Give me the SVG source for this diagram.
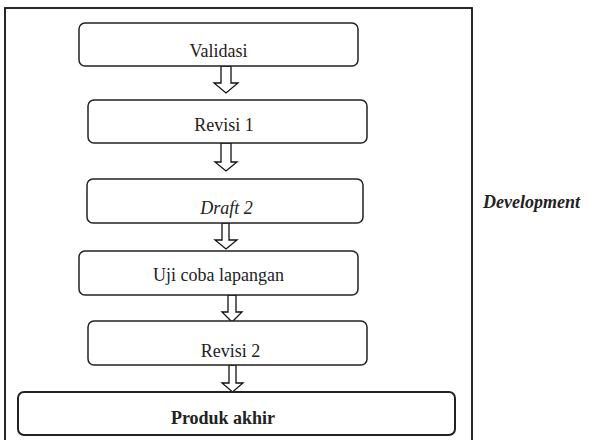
<svg xmlns="http://www.w3.org/2000/svg" width="589" height="440" viewBox="0 0 589 440">
<style>
.box{fill:#fff;stroke:#222;stroke-width:1.5}
.box2{fill:#fff;stroke:#222;stroke-width:2}
.t{font-family:"Liberation Serif","Times New Roman",serif;font-size:18px;fill:#222;text-anchor:middle}
.arr{fill:#fff;stroke:#111;stroke-width:1.3;stroke-linejoin:miter}
</style>
<rect width="589" height="440" fill="#fff"/>
<rect x="5" y="8" width="467" height="436" fill="none" stroke="#111" stroke-width="1.8"/>
<g id="connectors">
<polygon class="arr" points="221,66 231,66 231,83 238,83 226,93 214,83 221,83"/>
<polygon class="arr" points="221,143 231,143 231,162 237,162 226,171 215,162 221,162"/>
<polygon class="arr" points="222,223 229,223 229,240 237,240 226,249 215,240 222,240"/>
<polygon class="arr" points="228,295 236,295 236,312 242,312 232,322 222,312 228,312"/>
<polygon class="arr" points="229,365 236,365 236,383 243,383 232.5,392 222,383 229,383"/>
</g>
<g id="validasi">
<rect class="box" x="79" y="23" width="279" height="43" rx="6"/>
<text class="t" x="218.5" y="57">Validasi</text>
</g>
<g id="revisi1">
<rect class="box" x="88" y="100" width="279" height="43" rx="6"/>
<text class="t" x="224" y="131">Revisi 1</text>
</g>
<g id="draft2">
<rect class="box" x="87" y="179" width="276" height="44" rx="6"/>
<text class="t" x="226.5" y="214" style="font-style:italic">Draft 2</text>
</g>
<g id="ujicoba">
<rect class="box" x="79" y="251" width="279" height="44" rx="6"/>
<text class="t" x="218.5" y="281">Uji coba lapangan</text>
</g>
<g id="revisi2">
<rect class="box" x="88" y="321" width="279" height="44" rx="6"/>
<text class="t" x="230.5" y="357">Revisi 2</text>
</g>
<g id="produk">
<rect class="box2" x="18" y="392" width="437" height="43" rx="6"/>
<text class="t" x="223" y="424" style="font-weight:bold">Produk akhir</text>
</g>
<g id="development">
<text class="t" x="483" y="208" style="font-weight:bold;font-style:italic;text-anchor:start">Development</text>
</g>
</svg>
